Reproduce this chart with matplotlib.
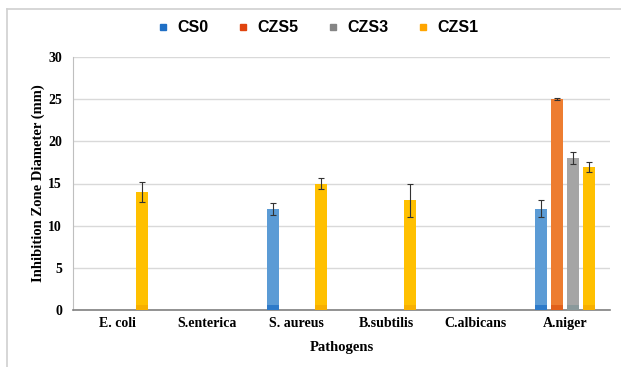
import numpy as np
import matplotlib.pyplot as plt
from matplotlib.lines import Line2D

pathogens = ["E. coli", "S.enterica", "S. aureus", "B.subtilis", "C.albicans", "A.niger"]
series = ["CS0", "CZS5", "CZS3", "CZS1"]
cs0 = [0, 0, 12, 0, 0, 12]
czs5 = [0, 0, 0, 0, 0, 25]
czs3 = [0, 0, 0, 0, 0, 18]
czs1 = [14, 0, 15, 13, 0, 17]
cs0_err = [0, 0, 0.7, 0, 0, 1.0]
czs5_err = [0, 0, 0, 0, 0, 0.1]
czs3_err = [0, 0, 0, 0, 0, 0.7]
czs1_err = [1.2, 0, 0.6, 2.0, 0, 0.6]

values = [cs0, czs5, czs3, czs1]
errors = [cs0_err, czs5_err, czs3_err, czs1_err]
bar_colors = ["#5B9BD5", "#ED7D31", "#A5A5A5", "#FFC000"]
base_colors = ["#1A6CC4", "#DC5512", "#7F9597", "#F5A800"]
legend_colors = ["#1F6FC5", "#E0440E", "#858585", "#FFA500"]

fig = plt.figure(figsize=(6.21, 3.67), dpi=100)
ax = fig.add_axes([73 / 621, (367 - 310) / 367, 537 / 621, 253 / 367])

x = np.arange(len(pathogens))
step = 0.178
width = 0.135
for i, (vals, errs) in enumerate(zip(values, errors)):
    pos = x + (i - 1.5) * step
    v = np.array(vals, dtype=float)
    e = np.array(errs, dtype=float)
    mask = v > 0
    ax.bar(pos[mask], v[mask], width=width, color=bar_colors[i], zorder=3)
    # darker base like the original's gradient fill
    ax.bar(pos[mask], np.minimum(v[mask], 0.6), width=width, color=base_colors[i], zorder=3, alpha=0.7)
    ax.errorbar(pos[mask], v[mask], yerr=e[mask], fmt="none", ecolor="#333333",
                elinewidth=0.8, capsize=2.5, capthick=0.8, zorder=4)

ax.set_xlim(-0.5, len(pathogens) - 0.5)
ax.set_ylim(0, 30)
ax.set_yticks(np.arange(0, 31, 5))
ax.set_xticks(x)
ax.set_xticklabels(pathogens, fontfamily="Liberation Serif", fontweight="bold", fontsize=10)
for lab in ax.get_yticklabels():
    lab.set_fontfamily("Liberation Serif")
    lab.set_fontweight("bold")
    lab.set_fontsize(10)
ax.tick_params(axis="y", length=0, pad=8)
ax.tick_params(axis="x", length=0, pad=5)
ax.grid(axis="y", color="#D9D9D9", linewidth=1, zorder=0)
for s in ["top", "right"]:
    ax.spines[s].set_visible(False)
ax.spines["left"].set_color("#BFBFBF")
ax.spines["bottom"].set_color("#808080")
ax.spines["bottom"].set_linewidth(1.2)

ax.set_ylabel("Inhibition Zone Diameter (mm)", fontfamily="Liberation Serif",
              fontweight="bold", fontsize=10.5, labelpad=2)
ax.set_xlabel("Pathogens", fontfamily="Liberation Serif", fontweight="bold",
              fontsize=10.5, labelpad=8)

handles = [Line2D([], [], marker="s", linestyle="none", markersize=5,
                  color=c) for c in legend_colors]
fig.legend(handles, series, loc="center", bbox_to_anchor=(317 / 621, 1 - 28 / 367),
           ncol=4, frameon=False, prop={"family": "Liberation Sans", "weight": "bold", "size": 11.5},
           handlelength=1.0, handletextpad=0.4, columnspacing=1.65)

# light frame around the chart
fig.add_artist(Line2D([7 / 621, 1], [1 - 9 / 367, 1 - 9 / 367], color="#D0D0D0", linewidth=1.2))
fig.add_artist(Line2D([7 / 621, 7 / 621], [0, 1 - 9 / 367], color="#D0D0D0", linewidth=1.2))

fig.savefig("out.png", dpi=100)
